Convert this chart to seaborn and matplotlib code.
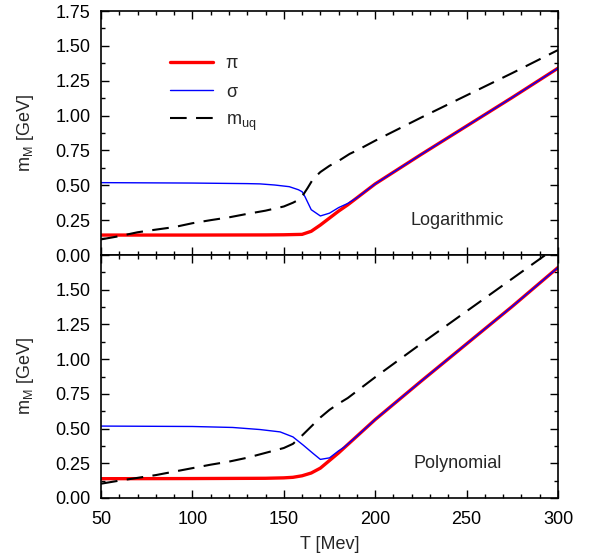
import numpy as np
import pandas as pd
import matplotlib
matplotlib.use("Agg")
import matplotlib.pyplot as plt
import seaborn as sns

# ---- data ----
T_log_pi = [50, 100, 140, 150, 160, 165, 170, 175, 180, 185, 190, 200, 225, 250, 275, 300]
pi_log = [0.143, 0.143, 0.144, 0.145, 0.148, 0.17, 0.215, 0.265, 0.315, 0.36, 0.41, 0.51, 0.72, 0.925, 1.13, 1.34]

T_log_sig = [50, 100, 130, 137, 145, 153, 158, 160, 161.6, 165, 170, 175, 180, 185, 190, 200, 225, 250, 275, 300]
sig_log = [0.519, 0.516, 0.512, 0.51, 0.502, 0.49, 0.468, 0.454, 0.418, 0.325, 0.28, 0.30, 0.34, 0.37, 0.41, 0.51, 0.72, 0.925, 1.13, 1.34]

T_log_uq = [50, 60, 70, 80, 90, 100, 110, 120, 130, 140, 150, 155, 158, 160, 163, 166, 170, 175, 180, 186, 190, 200, 225, 250, 275, 300]
uq_log = [0.112, 0.135, 0.163, 0.182, 0.20, 0.228, 0.25, 0.27, 0.295, 0.318, 0.348, 0.375, 0.395, 0.42, 0.48, 0.545, 0.595, 0.64, 0.675, 0.725, 0.75, 0.82, 0.985, 1.145, 1.305, 1.47]

T_pol_pi = [50, 100, 140, 150, 155, 160, 165, 170, 175, 180, 190, 200, 225, 250, 275, 300]
pi_pol = [0.139, 0.14, 0.142, 0.145, 0.149, 0.16, 0.18, 0.215, 0.27, 0.325, 0.445, 0.565, 0.84, 1.11, 1.38, 1.66]

T_pol_sig = [50, 100, 122, 137, 148, 155, 160.7, 166, 170, 175, 180, 183, 190, 200, 225, 250, 275, 300]
sig_pol = [0.518, 0.515, 0.508, 0.493, 0.476, 0.44, 0.38, 0.321, 0.278, 0.289, 0.34, 0.365, 0.445, 0.565, 0.84, 1.11, 1.38, 1.66]

T_pol_uq = [50, 60, 70, 80, 90, 100, 110, 120, 130, 140, 150, 155, 160, 165, 170, 175, 180, 185, 190, 200, 225, 250, 275, 300]
uq_pol = [0.103, 0.125, 0.145, 0.165, 0.19, 0.215, 0.24, 0.262, 0.29, 0.325, 0.36, 0.39, 0.45, 0.515, 0.58, 0.635, 0.68, 0.72, 0.77, 0.87, 1.11, 1.345, 1.58, 1.815]

x_ticks = [50, 100, 150, 200, 250, 300]
y_ticks = [0.00, 0.25, 0.50, 0.75, 1.00, 1.25, 1.50, 1.75]
panel_names = ["Logarithmic", "Polynomial"]
legend_labels = ["\u03c0", "\u03c3", r"m$_\mathrm{uq}$"]

# ---- style ----
sns.set_style("ticks")
plt.rcParams["font.family"] = ["Liberation Sans", "DejaVu Sans"]
plt.rcParams["mathtext.fontset"] = "custom"
plt.rcParams["mathtext.rm"] = "Liberation Sans"
plt.rcParams["mathtext.it"] = "Liberation Sans:italic"
FS = 13

fig = plt.figure(figsize=(5.9, 5.57), dpi=100)
ax_top = fig.add_axes([101 / 590, 1 - 255 / 557, 457 / 590, 244 / 557])
ax_bot = fig.add_axes([101 / 590, 1 - 498 / 557, 457 / 590, 243 / 557])

datasets = [
    (ax_top, T_log_pi, pi_log, T_log_sig, sig_log, T_log_uq, uq_log),
    (ax_bot, T_pol_pi, pi_pol, T_pol_sig, sig_pol, T_pol_uq, uq_pol),
]

for i, (ax, tp, yp, ts, ys, tu, yu) in enumerate(datasets):
    sns.lineplot(x=tp, y=yp, ax=ax, color="#ff0000", linewidth=2.4, label=legend_labels[0])
    sns.lineplot(x=ts, y=ys, ax=ax, color="#0000ff", linewidth=1.0, label=legend_labels[1])
    sns.lineplot(x=tu, y=yu, ax=ax, color="black", linewidth=1.5,
                 linestyle=(0, (8, 4.5)), label=legend_labels[2])
    ax.set_xlim(50, 300)
    ax.set_ylim(0, 1.75)
    ax.set_xticks(x_ticks)
    ax.set_xticks(np.arange(50, 301, 10), minor=True)
    ax.set_yticks(y_ticks)
    ax.set_yticks(np.arange(0, 1.751, 0.125), minor=True)
    ax.tick_params(which="both", direction="in", top=True, right=True, width=1.0,
                   labelsize=FS, colors="black")
    ax.tick_params(axis="y", which="both", pad=7.5)
    ax.tick_params(axis="x", which="both", pad=9)
    ax.tick_params(which="major", length=5.5)
    ax.tick_params(which="minor", length=3)
    for s in ax.spines.values():
        s.set_linewidth(1.2)
        s.set_color("black")
    ax.set_ylabel(r"m$_\mathrm{M}$ [GeV]", fontsize=FS)
    ax.yaxis.set_label_coords(-0.143, 0.5)
    ax.text(245, 0.25, panel_names[i], fontsize=FS, ha="center", va="center")
    ax.set_yticklabels([f"{v:.2f}" for v in y_ticks])
    if i == 0:
        ax.set_xticklabels([])
        ax.set_xlabel("")
        ax.legend(loc="upper left", bbox_to_anchor=(0.115, 0.885), frameon=False,
                  fontsize=FS, handlelength=2.4, labelspacing=0.62, handletextpad=0.7)
    else:
        ax.get_legend().remove()
        labels = [f"{v:.2f}" for v in y_ticks]
        labels[-1] = ""
        ax.set_yticklabels(labels)
        ax.set_xlabel("T [Mev]", fontsize=FS, labelpad=6)

fig.savefig("out.png", dpi=100)
